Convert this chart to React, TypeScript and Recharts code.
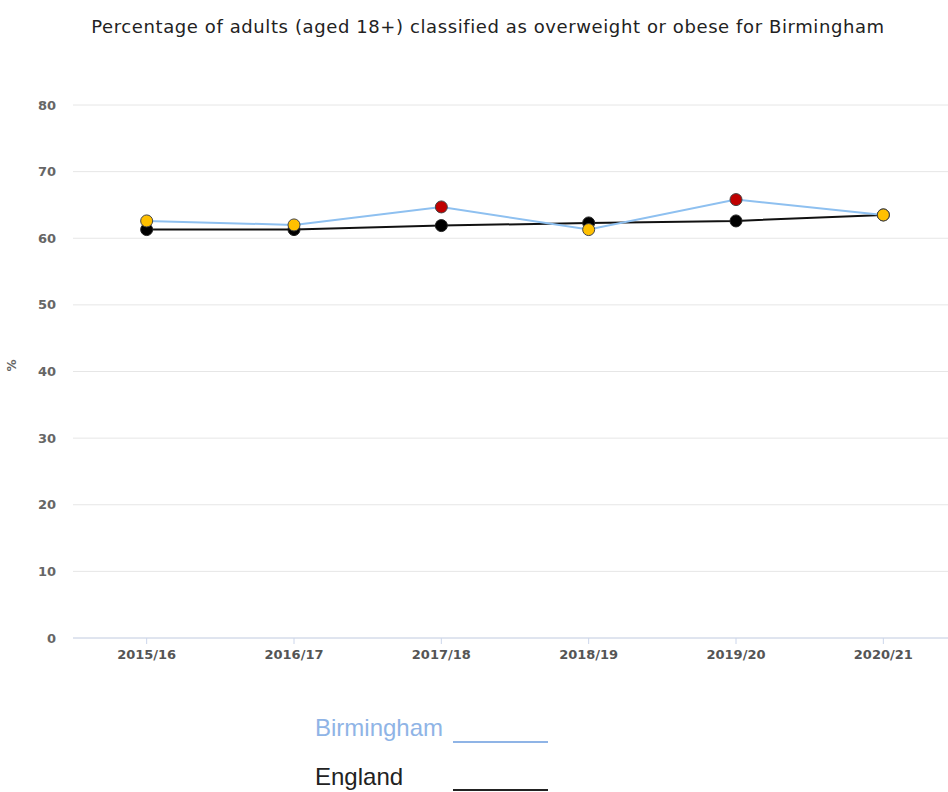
import React from "react";
import {
  LineChart,
  Line,
  XAxis,
  YAxis,
  CartesianGrid,
} from "recharts";

const YEARS = ["2015/16", "2016/17", "2017/18", "2018/19", "2019/20", "2020/21"];
const BIRMINGHAM = [62.6, 62.0, 64.7, 61.3, 65.8, 63.5];
const ENGLAND = [61.3, 61.3, 61.9, 62.3, 62.6, 63.5];
// significance colour of each Birmingham point vs England
const BIRMINGHAM_DOT = ["#FFC000", "#FFC000", "#C00000", "#FFC000", "#C00000", "#FFC000"];
const Y_TICKS = [0, 10, 20, 30, 40, 50, 60, 70, 80];

const data = YEARS.map((name, i) => ({
  name,
  birmingham: BIRMINGHAM[i],
  england: ENGLAND[i],
}));

const FONT = "'DejaVu Sans', sans-serif";
const LEGEND_FONT = "'Liberation Sans', Arial, sans-serif";

const BirminghamDot = (props: any) => {
  const { cx, cy, index } = props;
  if (cx == null || cy == null) return null;
  return (
    <circle
      key={`b-${index}`}
      cx={cx}
      cy={cy}
      r={6}
      fill={BIRMINGHAM_DOT[index]}
      stroke="#444"
      strokeWidth={1}
    />
  );
};

export default function App() {
  return (
    <div
      style={{
        position: "absolute",
        left: 0,
        top: 0,
        width: 948,
        height: 792,
        overflow: "hidden",
        background: "#fff",
        fontFamily: FONT,
      }}
    >
      <div
        style={{
          position: "absolute",
          top: 16,
          left: 0,
          width: 976,
          textAlign: "center",
          fontSize: 18,
          letterSpacing: 0.6,
          color: "#222",
        }}
      >
        Percentage of adults (aged 18+) classified as overweight or obese for Birmingham
      </div>
      <LineChart
        width={960}
        height={792}
        data={data}
        margin={{ top: 105, right: 3, bottom: 124, left: 0 }}
      >
        <CartesianGrid vertical={false} stroke="#e6e6e6" />
        <XAxis
          dataKey="name"
          scale="band"
          height={30}
          axisLine={{ stroke: "#ccd6eb" }}
          tickLine={{ stroke: "#ccd6eb" }}
          tickSize={6}
          tickMargin={6}
          tick={{ fontSize: 13, fontWeight: "bold", fill: "#555", fontFamily: FONT }}
        />
        <YAxis
          width={73}
          domain={[0, 80]}
          ticks={Y_TICKS}
          axisLine={false}
          tickLine={false}
          tickMargin={11}
          tick={{ fontSize: 13, fontWeight: "bold", fill: "#666", fontFamily: FONT }}
          label={{
            value: "%",
            angle: -90,
            position: "insideLeft",
            offset: 12,
            style: { fontSize: 12, fontWeight: "bold", fill: "#666", fontFamily: FONT },
          }}
        />
        <Line
          dataKey="england"
          stroke="#111"
          strokeWidth={2}
          dot={{ r: 6, fill: "#000", stroke: "#222", strokeWidth: 1 }}
          isAnimationActive={false}
        />
        <Line
          dataKey="birmingham"
          stroke="#8ec0f0"
          strokeWidth={2}
          dot={BirminghamDot}
          isAnimationActive={false}
        />
      </LineChart>
      <div
        style={{
          position: "absolute",
          left: 315,
          top: 714,
          fontFamily: LEGEND_FONT,
          fontSize: 24,
          color: "#8fb4e6",
        }}
      >
        Birmingham
        <span
          style={{
            position: "absolute",
            left: 138,
            top: 27,
            width: 95,
            borderTop: "2px solid #8fb4e6",
          }}
        />
      </div>
      <div
        style={{
          position: "absolute",
          left: 315,
          top: 763,
          fontFamily: LEGEND_FONT,
          fontSize: 24,
          color: "#222",
        }}
      >
        England
        <span
          style={{
            position: "absolute",
            left: 138,
            top: 26,
            width: 95,
            borderTop: "2px solid #222",
          }}
        />
      </div>
    </div>
  );
}
